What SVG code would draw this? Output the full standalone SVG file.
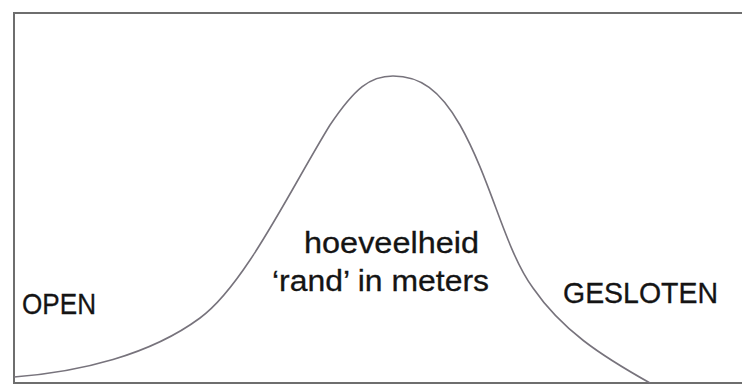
<svg xmlns="http://www.w3.org/2000/svg" width="742" height="390" viewBox="0 0 742 390">
<style>
.frame{fill:none;stroke:#6e6e6e;stroke-width:2}
.curve{fill:none;stroke:#77737c;stroke-width:1.6}
.lbl{font-family:"Liberation Sans",Arial,sans-serif;font-size:29px;fill:#141414;stroke:#141414;stroke-width:0.3}
.big{font-size:30px}
</style>
<rect x="0" y="0" width="742" height="390" fill="#ffffff"/>
<g id="frame">
<path class="frame" d="M742,13 H14 V383 H742"/>
</g>
<g id="connectors">
<path class="curve" d="M14,377 C80,372 150,355 200,318 C245,285 290,190 330,125 C355,88 370,76 393,76 C420,76 440,90 460,125 C492,182 505,250 533,288 C562,330 600,355 650,383"/>
</g>
<g id="open"><text class="lbl" x="22" y="314" textLength="74" lengthAdjust="spacingAndGlyphs">OPEN</text></g>
<g id="gesloten"><text class="lbl" x="563" y="303" textLength="155" lengthAdjust="spacingAndGlyphs">GESLOTEN</text></g>
<g id="center">
<text class="lbl big" x="304" y="253" textLength="175" lengthAdjust="spacingAndGlyphs">hoeveelheid</text>
<text class="lbl big" x="272" y="291" textLength="217" lengthAdjust="spacingAndGlyphs">‘rand’ in meters</text>
</g>
</svg>
